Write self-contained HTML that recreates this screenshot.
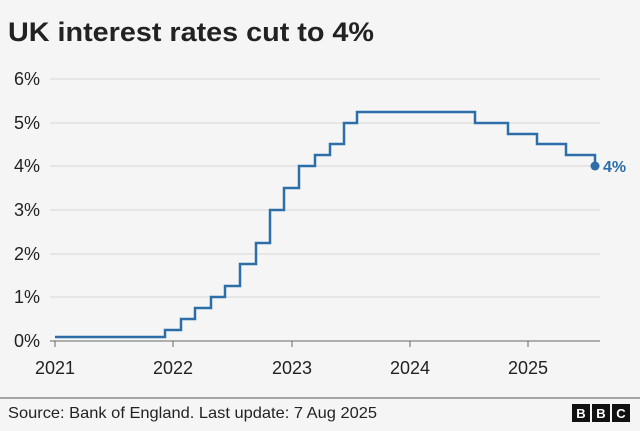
<!DOCTYPE html>
<html><head><style>
body{margin:0;background:#f5f5f5;width:640px;height:426px;overflow:hidden;font-family:"Liberation Sans",sans-serif}
</style></head><body>
<svg width="640" height="426" xmlns="http://www.w3.org/2000/svg" font-family="Liberation Sans, sans-serif">
<rect width="640" height="426" fill="#f5f5f5"/>
<text x="8" y="41" font-size="27" font-weight="bold" fill="#222" textLength="366" lengthAdjust="spacingAndGlyphs">UK interest rates cut to 4%</text>
<g stroke="#d6d6d6" stroke-width="1">
<line x1="50" x2="600" y1="79" y2="79"/><line x1="50" x2="600" y1="123" y2="123"/>
<line x1="50" x2="600" y1="166" y2="166"/><line x1="50" x2="600" y1="210" y2="210"/>
<line x1="50" x2="600" y1="254" y2="254"/><line x1="50" x2="600" y1="297" y2="297"/>
</g>
<line x1="50" x2="600" y1="341" y2="341" stroke="#666" stroke-width="1"/>
<g stroke="#666"><line x1="55" x2="55" y1="341" y2="347"/><line x1="173" x2="173" y1="341" y2="347"/><line x1="292" x2="292" y1="341" y2="347"/><line x1="410" x2="410" y1="341" y2="347"/><line x1="528" x2="528" y1="341" y2="347"/></g>
<g font-size="18" fill="#222" text-anchor="end">
<text x="40" y="85">6%</text><text x="40" y="129">5%</text><text x="40" y="172">4%</text><text x="40" y="216">3%</text><text x="40" y="260">2%</text><text x="40" y="303">1%</text><text x="40" y="347">0%</text>
</g>
<g font-size="18" fill="#222" text-anchor="middle">
<text x="55" y="374">2021</text><text x="173" y="374">2022</text><text x="292" y="374">2023</text><text x="410" y="374">2024</text><text x="528" y="374">2025</text>
</g>
<path fill="none" stroke="#2d6ea8" stroke-width="2.5" d="M55,337 H165 V330 H181 V319 H195 V308 H211 V297 H225 V286 H240 V264 H256 V243 H270 V210 H284 V188 H299 V166 H315 V155 H330 V144 H344 V123 H357 V112 H475 V123 H508 V134 H537 V144 H566 V155 H595 V166"/>
<circle cx="595" cy="166" r="4.5" fill="#2d6ea8"/>
<text x="603" y="172" font-size="16" font-weight="bold" fill="#2d6ea8">4%</text>
<line x1="0" x2="640" y1="398" y2="398" stroke="#555" stroke-width="1"/>
<text x="8" y="418" font-size="16" fill="#222" textLength="369" lengthAdjust="spacingAndGlyphs">Source: Bank of England. Last update: 7 Aug 2025</text>
<g font-size="13" font-weight="bold" fill="#fff" text-anchor="middle">
<rect x="572" y="404" width="18" height="18" fill="#111"/><text x="581" y="418">B</text>
<rect x="592" y="404" width="18" height="18" fill="#111"/><text x="601" y="418">B</text>
<rect x="612" y="404" width="18" height="18" fill="#111"/><text x="621" y="418">C</text>
</g>
</svg>
</body></html>
